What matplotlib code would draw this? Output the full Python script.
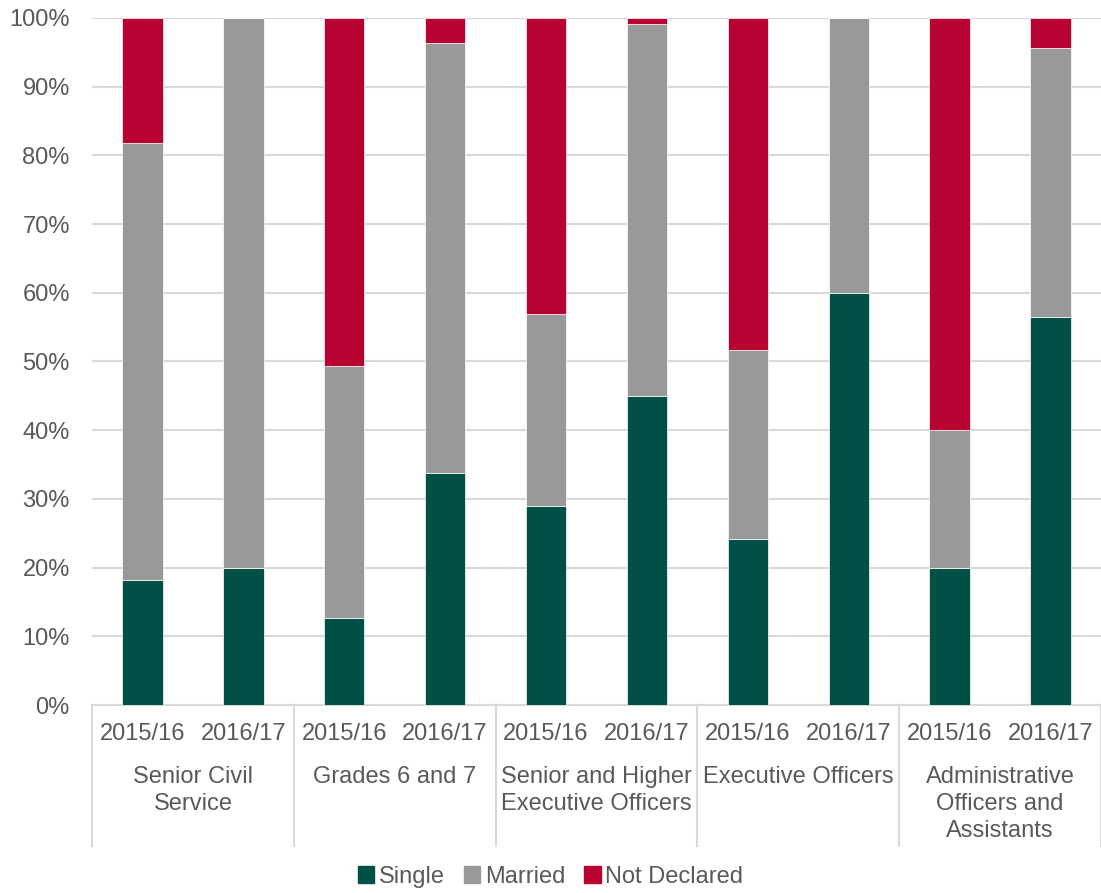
import numpy as np
import matplotlib
matplotlib.use("Agg")
import matplotlib.pyplot as plt
import matplotlib.transforms as mtransforms
from matplotlib.patches import Patch

plt.rcParams['font.family'] = ['Liberation Sans', 'DejaVu Sans']

groups = ["Senior Civil\nService", "Grades 6 and 7", "Senior and Higher\nExecutive Officers",
          "Executive Officers", "Administrative\nOfficers and\nAssistants"]
years = ["2015/16", "2016/17"]

# percentages, bar order: group by group, 2015/16 then 2016/17
single = [18.2, 20.0, 12.7, 33.8, 29.0, 45.0, 24.2, 60.0, 20.0, 56.5]
married = [63.6, 80.0, 36.6, 62.6, 27.9, 54.1, 27.5, 40.0, 20.0, 39.1]
not_declared = [18.2, 0.0, 50.7, 3.6, 43.1, 0.9, 48.3, 0.0, 60.0, 4.4]

c_single = "#005045"
c_married = "#999999"
c_nd = "#B70232"
txt = "#595959"

fig = plt.figure(figsize=(11.01, 8.93), dpi=100)
ax = fig.add_axes([0.0836, 0.2105, 0.9164, 0.7695])

x = np.arange(len(single))
single = np.array(single)
married = np.array(married)
not_declared = np.array(not_declared)
w = 0.4
ax.bar(x, single, w, color=c_single, edgecolor="white", linewidth=0.5, zorder=3)
ax.bar(x, married, w, bottom=single, color=c_married, edgecolor="white", linewidth=0.5, zorder=3)
ax.bar(x, not_declared, w, bottom=single + married, color=c_nd, edgecolor="white", linewidth=0.5, zorder=3)

ax.set_xlim(-0.5, len(x) - 0.5)
ax.set_ylim(0, 100)
ax.set_yticks(np.arange(0, 101, 10))
ax.set_yticklabels([f"{v}%" for v in range(0, 101, 10)])
ax.yaxis.grid(True, color="#d9d9d9", linewidth=1.5, zorder=0)
ax.tick_params(axis="y", length=0, labelsize=17, labelcolor=txt, pad=16)
ax.set_xticks([])
for s in ["top", "right", "left"]:
    ax.spines[s].set_visible(False)
ax.spines["bottom"].set_color("#d9d9d9")
ax.spines["bottom"].set_linewidth(1.5)

trans = mtransforms.blended_transform_factory(ax.transData, ax.transAxes)
for i, xi in enumerate(x):
    ax.text(xi, -0.042, years[i % 2], transform=trans, ha="center", va="center",
            fontsize=17, color=txt)
for g, name in enumerate(groups):
    ax.text(2 * g + 0.5, -0.089, name, transform=trans, ha="center", va="top",
            fontsize=17, color=txt, linespacing=1.3)
for b in range(len(groups) + 1):
    ax.plot([2 * b - 0.5, 2 * b - 0.5], [0, -0.205], transform=trans, color="#d9d9d9",
            linewidth=1.5, clip_on=False)

handles = [Patch(color=c_single, label="Single"), Patch(color=c_married, label="Married"),
           Patch(color=c_nd, label="Not Declared")]
fig.legend(handles=handles, loc="lower center", bbox_to_anchor=(0.5, -0.018), ncol=3,
           frameon=False, fontsize=17, labelcolor=txt, handlelength=0.7, handleheight=0.7,
           handletextpad=0.2, columnspacing=0.8)

fig.savefig("out.png", dpi=100)
